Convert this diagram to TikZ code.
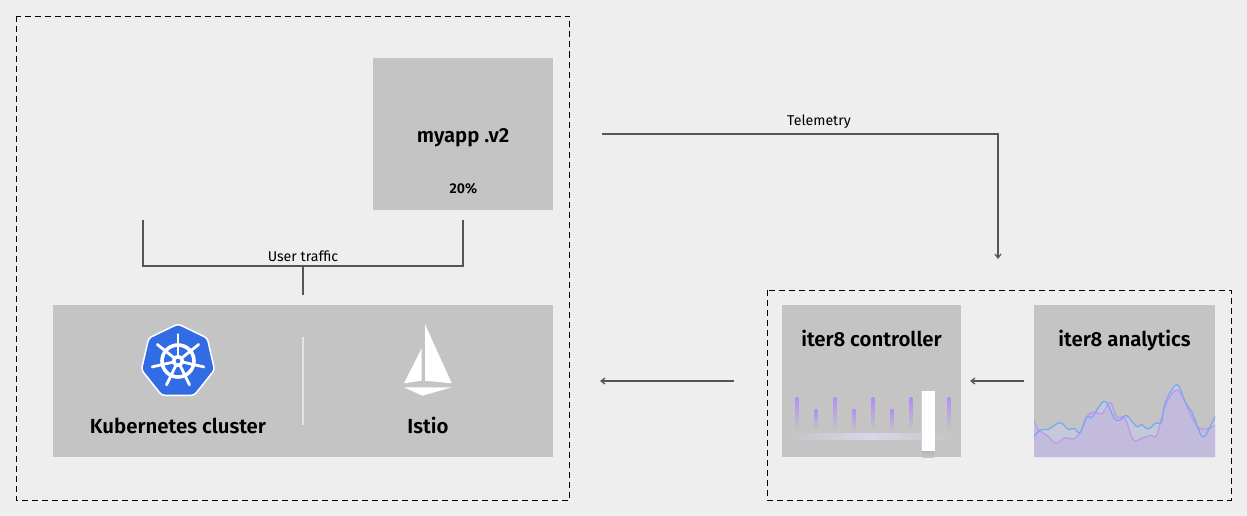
\documentclass[tikz,border=0pt]{standalone}
\usepackage{fontspec}
\setmainfont[BoldFont={Fira Sans SemiBold}]{Fira Sans}
\usepackage{tikz}
\usetikzlibrary {arrows.meta,
                 shapes.geometric}
\definecolor{pagegray}{HTML}{EEEEEE}
\definecolor{panelgray}{HTML}{C4C4C4}
\definecolor{linegray}{HTML}{555555}
\definecolor{k8sblue}{HTML}{326CE5}
\definecolor{barpurple}{HTML}{B48CFA}
\definecolor{trackpurple}{HTML}{DAD6EC}
\definecolor{areablue}{HTML}{C3C9D6}
\definecolor{areapurple}{HTML}{C3BBDB}
\definecolor{curveblue}{HTML}{78A6F5}
\definecolor{curvepurple}{HTML}{BC96F2}
\tikzset{
        panel/.style={fill=panelgray, inner sep=0, outer sep=0},
        frame/.style={draw=black, dashed, line width=0.9pt, dash pattern=on 6pt off 4pt},
        title/.style={font=\fontsize{20.4}{24}\selectfont\bfseries, text=black, anchor=base},
        small/.style={font=\fontsize{14.2}{16}\selectfont, text=black, anchor=base},
        myline/.style={draw=linegray, line width=1.25pt},
        myarrow/.style={myline, -{Straight Barb[length=4pt, width=6pt]}},
        bar/.style={top color=barpurple, bottom color=panelgray, draw=none},
 }

\begin{document}
\begin{tikzpicture}[x=1pt, y=-1pt]
    \useasboundingbox (0,0) rectangle (1247,516);
    \fill[pagegray] (0,0) rectangle (1247,516);

    % frames
    \draw[frame] (16,16) rectangle (569.5,500);
    \draw[frame] (767,290) rectangle (1231,500);

    % panels
    \node[panel, minimum width=180, minimum height=152] (myapp) at (463,134) {};
    \node[panel, minimum width=500, minimum height=152] (mesh) at (303,381) {};
    \node[panel, minimum width=179, minimum height=152] (controller) at (871.5,381) {};
    \node[panel, minimum width=181, minimum height=152] (analytics) at (1124.5,381) {};

    \node[title] (myapplabel) at (463,142.5) {myapp .v2};
    \node[small, font=\fontsize{14.2}{16}\selectfont\bfseries] (share) at (463.5,193) {20\%};
    \node[title] (k8slabel) at (178,433) {Kubernetes cluster};
    \node[title] (istiolabel) at (428,433) {Istio};
    \node[title] (controllerlabel) at (871.5,346) {iter8 controller};
    \node[title] (analyticslabel) at (1124.5,346) {iter8 analytics};

    % divider
    \draw[white!55!panelgray, line width=1.5pt] (303,337) -- (303,425);

    % kubernetes icon
    \node[regular polygon, regular polygon sides=7, minimum size=75, inner sep=0,
          fill=k8sblue, draw=white, line width=1.5pt, rounded corners=3pt] (k8sicon) at (178,361.5) {};
    \draw[white, line width=3.6pt] (178,361) circle (16);
    \foreach \a in {90,141.43,...,450}
        \draw[white, line width=2.8pt, line cap=round] (178,361) -- +({\a}:-26.5);
    \fill[white] (178,361) circle (6);
    \fill[k8sblue] (178,361) circle (2.3);

    % istio icon
    \fill[white] (425,324.3) -- (451.7,383.3) -- (425,380.7) -- cycle;
    \fill[white] (421.7,348.3) -- (421.7,380.7) -- (404,383.3) -- cycle;
    \fill[white] (404,387.3) -- (451.7,387.3) -- (422.3,395.7) -- cycle;

    % controller bars
    \foreach \x in {797,835,873,911,949}
        \shade[bar] (\x-1.5,397) rectangle (\x+1.5,431);
    \foreach \x in {816,854,892}
        \shade[bar] (\x-1.5,409) rectangle (\x+1.5,431);
    \shade[left color=panelgray, right color=panelgray, middle color=trackpurple]
        (787,433) rectangle (955,439);
    \shade[top color=panelgray!93!black, bottom color=panelgray] (922,451) rectangle (934,457);
    \fill[panelgray!80!white] (920.5,391) rectangle (922,451);
    \fill[white] (921.5,391) rectangle (935,451);

    % analytics chart
    \begin{scope}[shift={(1025,370)}, x=1pt/3, y=-1pt/3]
        \clip (27,0) rectangle (570,261);
        \fill[areablue] (27,261) -- plot[smooth, tension=0.6] coordinates {(27,200) (45,180) (70,178) (105,158) (130,178) (148,175) (165,188) (185,140) (200,143) (222,110) (242,95) (268,145) (285,150) (305,137) (335,170) (348,163) (370,177) (390,160) (410,155) (420,100) (455,44) (480,95) (500,125) (532,200) (555,170) (570,140)} -- (570,261) -- cycle;
        \fill[areapurple] (27,261) -- plot[smooth, tension=0.6] coordinates {(27,152) (40,180) (65,195) (92,220) (120,203) (145,207) (165,188) (190,135) (210,127) (232,130) (255,97) (275,140) (300,145) (325,210) (350,205) (375,196) (395,195) (420,110) (450,62) (470,75) (495,130) (520,172) (550,176) (570,165)} -- (570,261) -- cycle;
        \draw[curvepurple, line width=1.2pt] plot[smooth, tension=0.6] coordinates {(27,152) (40,180) (65,195) (92,220) (120,203) (145,207) (165,188) (190,135) (210,127) (232,130) (255,97) (275,140) (300,145) (325,210) (350,205) (375,196) (395,195) (420,110) (450,62) (470,75) (495,130) (520,172) (550,176) (570,165)};
        \draw[curveblue, line width=1.2pt] plot[smooth, tension=0.6] coordinates {(27,200) (45,180) (70,178) (105,158) (130,178) (148,175) (165,188) (185,140) (200,143) (222,110) (242,95) (268,145) (285,150) (305,137) (335,170) (348,163) (370,177) (390,160) (410,155) (420,100) (455,44) (480,95) (500,125) (532,200) (555,170) (570,140)};
    \end{scope}

    % connectors
    \coordinate (trafficleft) at (143,220);
    \coordinate (trafficright) at (463,220);
    \coordinate (trafficjoin) at (303,266);
    \coordinate (telemetrystart) at (602,134);
    \coordinate (telemetryend) at (998,259);

    \draw[myline] (trafficleft) |- (trafficjoin) -| (trafficright);
    \draw[myline, shorten >=10] (trafficjoin) -- (mesh);
    \node[small] (trafficlabel) at (303,261) {User traffic};

    \draw[myarrow] (telemetrystart) -| (telemetryend);
    \node[small] (telemetrylabel) at (819,125.5) {Telemetry};

    \draw[myarrow, shorten <=10, shorten >=9] (analytics) -- (controller);
    \draw[myarrow, shorten <=48, shorten >=47] (controller) -- (mesh);
\end{tikzpicture}
\end{document}
